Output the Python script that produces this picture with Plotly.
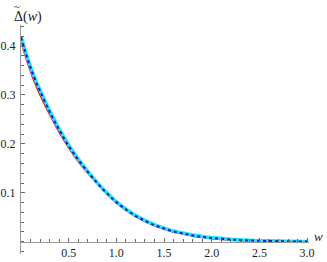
import plotly.graph_objects as go

w = [0.0, 0.05, 0.1, 0.15, 0.2, 0.3, 0.4, 0.5, 0.6, 0.7, 0.8, 0.9, 1.0, 1.1, 1.2, 1.3, 1.4, 1.5,
     1.6, 1.7, 1.8, 1.9, 2.0, 2.2, 2.4, 2.6, 2.8, 3.0]
delta_cyan = [0.420, 0.387, 0.358, 0.332, 0.310, 0.268, 0.231, 0.198, 0.169, 0.144, 0.121, 0.100,
              0.082, 0.067, 0.054, 0.044, 0.035, 0.028, 0.022, 0.018, 0.014, 0.011, 0.0085,
              0.0052, 0.0032, 0.0020, 0.0012, 0.0008]
delta_blue = [0.418, 0.385, 0.356, 0.330, 0.308, 0.266, 0.229, 0.196, 0.168, 0.143, 0.120, 0.099,
              0.081, 0.066, 0.053, 0.043, 0.034, 0.027, 0.021, 0.017, 0.013, 0.010, 0.0078,
              0.0046, 0.0027, 0.0016, 0.0009, 0.0005]
delta_red = [0.412, 0.378, 0.349, 0.323, 0.301, 0.261, 0.225, 0.193, 0.165, 0.141, 0.119, 0.098,
             0.080, 0.065, 0.052, 0.042, 0.033, 0.026, 0.020, 0.016, 0.012, 0.009, 0.0068,
             0.0038, 0.0020, 0.0010, 0.0004, 0.0001]

x_ticks = [0.5, 1.0, 1.5, 2.0, 2.5, 3.0]
x_tick_text = ["0.5", "1.0", "1.5", "2.0", "2.5", "3.0"]
y_ticks = [0.1, 0.2, 0.3, 0.4]
y_tick_text = ["0.1", "0.2", "0.3", "0.4"]

x_range = [0.0, 3.02]
y_range = [-0.025, 0.443]

SERIF = "Liberation Serif"
tick_font = dict(family=SERIF, size=12, color="#222222")

fig = go.Figure()
fig.add_trace(go.Scatter(x=w, y=delta_red, mode="lines", line=dict(color="#ee1111", width=2, shape="spline"),
                         showlegend=False))
fig.add_trace(go.Scatter(x=w, y=delta_cyan, mode="lines", line=dict(color="#22e8f4", width=3.5, shape="spline"),
                         showlegend=False))
fig.add_trace(go.Scatter(x=w, y=delta_blue, mode="lines",
                         line=dict(color="#1414e0", width=2, dash="3px,3px", shape="spline"),
                         showlegend=False))

fig.update_layout(
    width=327, height=262,
    margin=dict(l=21, r=18, t=25, b=8),
    paper_bgcolor="white", plot_bgcolor="white",
    xaxis=dict(range=x_range, showgrid=False, zeroline=False, showline=True, linecolor="#9a9a9a",
               linewidth=1, anchor="free", position=(0 - y_range[0]) / (y_range[1] - y_range[0]),
               automargin=False,
               tickmode="array", tickvals=x_ticks, ticktext=x_tick_text, ticks="inside",
               ticklen=4, tickcolor="#666666", tickfont=tick_font,
               minor=dict(dtick=0.1, tick0=0, ticks="inside", ticklen=2.5, tickcolor="#666666", showgrid=False)),
    yaxis=dict(range=y_range, showgrid=False, zeroline=False, showline=True, linecolor="#9a9a9a",
               linewidth=1, automargin=False, tickmode="array", tickvals=y_ticks, ticktext=y_tick_text,
               ticks="inside", ticklen=4, tickcolor="#666666",
               tickfont=tick_font, ticklabelstandoff=2,
               minor=dict(dtick=0.02, tick0=0, ticks="inside", ticklen=2.5, tickcolor="#666666", showgrid=False)),
    annotations=[
        dict(text="Δ(<i>w</i>)", xref="paper", yref="paper", x=0.0, y=1.0, xanchor="center",
             yanchor="bottom", showarrow=False, yshift=-2, xshift=7,
             font=dict(family=SERIF, size=14, color="#222222")),
        dict(text="~", xref="paper", yref="paper", x=0.0, y=1.0, xanchor="center",
             yanchor="bottom", showarrow=False, xshift=-4, yshift=11,
             font=dict(family=SERIF, size=11, color="#222222")),
        dict(text="<i>w</i>", xref="paper", yref="y", x=1.0, y=0.0, xanchor="left", yanchor="bottom",
             xshift=3, yshift=-4, showarrow=False,
             font=dict(family=SERIF, size=13, color="#222222")),
    ],
)

fig.write_html("out.html", config={"displayModeBar": False},
               post_script="document.body.style.margin='0';document.body.style.padding='0';")
